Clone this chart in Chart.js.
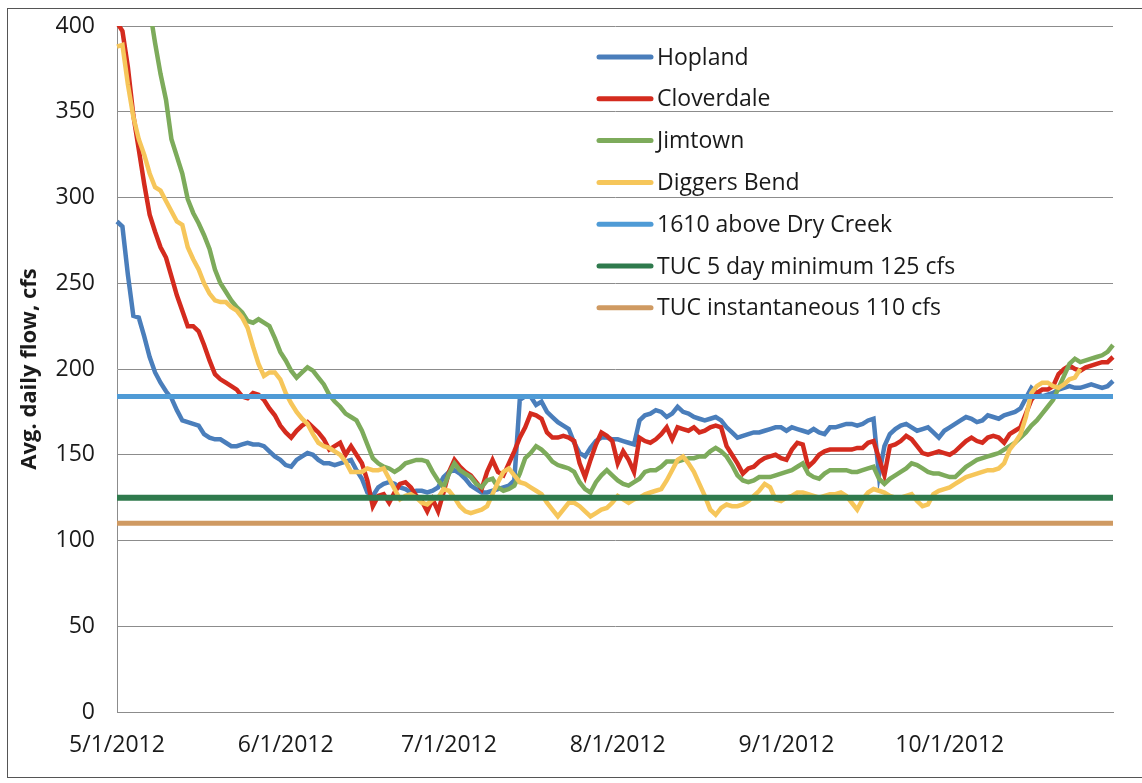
<!DOCTYPE html>
<html>
<head>
<meta charset="utf-8">
<script src="https://cdn.jsdelivr.net/npm/chart.js@4/dist/chart.umd.min.js"></script>
<style>
  html, body { margin: 0; padding: 0; background: #fff; }
  #wrap { position: relative; width: 1142px; height: 783px; }
  #frame { position: absolute; left: 7px; top: 8px; width: 1140px; height: 768px;
           border: 1px solid #555; border-right: none; pointer-events: none; }
</style>
</head>
<body>
<div id="wrap">
  <canvas id="flowChart"></canvas>
  <div id="frame"></div>
</div>
<script>
// daily values, 5/1/2012 .. 10/31/2012
const startDate = Date.UTC(2012, 4, 1);
const dayCount = 184;
const monthTicks = ['5/1/2012', '6/1/2012', '7/1/2012', '8/1/2012', '9/1/2012', '10/1/2012'];

const hopland = [
  286, 283, 255, 231, 230, 219, 207, 198, 192, 187,
  183, 176, 170, 169, 168, 167, 162, 160, 159, 159,
  157, 155, 155, 156, 157, 156, 156, 155, 152, 149,
  147, 144, 143, 147, 149, 151, 150, 147, 145, 145,
  144, 145, 146, 147, 141, 136, 128, 126, 131, 133,
  134, 133, 131, 130, 128, 129, 129, 128, 129, 131,
  137, 140, 141, 139, 136, 132, 130, 128, 128, 129,
  130, 131, 132, 135, 182, 184, 184, 179, 181, 175,
  172, 169, 167, 165, 157, 151, 149, 154, 158, 160,
  160, 159, 159, 158, 157, 156, 170, 173, 174, 176,
  175, 172, 174, 178, 175, 174, 172, 171, 170, 171,
  172, 170, 166, 163, 160, 161, 162, 163, 163, 164,
  165, 166, 166, 164, 166, 165, 164, 163, 165, 163,
  162, 166, 166, 167, 168, 168, 167, 168, 170, 171,
  138, 155, 162, 165, 167, 168, 166, 164, 165, 166,
  163, 160, 164, 166, 168, 170, 172, 171, 169, 170,
  173, 172, 171, 173, 174, 175, 177, 183, 189, 186,
  184, 185, 186, 188, 189, 190, 189, 189, 190, 191,
  190, 189, 190, 193
];

const cloverdale = [
  402, 397, 376, 348, 328, 308, 290, 280, 271, 265,
  254, 243, 234, 225, 225, 222, 214, 205, 197, 194,
  192, 190, 188, 184, 183, 186, 185, 182, 177, 173,
  167, 163, 160, 164, 167, 169, 166, 163, 159, 153,
  155, 157, 150, 155, 150, 145, 135, 120, 126, 127,
  122, 128, 133, 134, 131, 126, 123, 117, 124, 117,
  128, 140, 147, 143, 140, 138, 134, 130, 140, 147,
  140, 138, 145, 152, 160, 166, 174, 173, 171, 163,
  160, 160, 161, 160, 158, 145, 137, 147, 156, 163,
  161, 158, 145, 152, 147, 140, 160, 158, 157, 159,
  162, 166, 159, 166, 165, 164, 166, 163, 164, 166,
  167, 166, 155, 150, 145, 139, 142, 143, 146, 148,
  149, 150, 148, 147, 153, 157, 156, 143, 146, 150,
  152, 153, 153, 153, 153, 153, 154, 154, 157, 158,
  148, 138, 155, 156, 158, 161, 159, 155, 151, 150,
  151, 152, 151, 150, 152, 155, 158, 160, 158, 157,
  160, 161, 160, 157, 162, 164, 166, 174, 182, 186,
  188, 188, 190, 197, 200, 202, 200, 199, 201, 202,
  203, 204, 204, 207
];

const jimtown = [
  550, 525, 500, 475, 452, 430, 410, 390, 372, 357,
  334, 324, 314, 299, 291, 285, 278, 270, 258, 250,
  245, 240, 236, 233, 228, 227, 229, 227, 225, 218,
  210, 205, 199, 195, 198, 201, 199, 195, 191, 185,
  181, 178, 174, 172, 170, 164, 156, 148, 145, 143,
  142, 140, 142, 145, 146, 147, 147, 146, 140, 135,
  131, 139, 145, 141, 139, 137, 133, 131, 135, 136,
  131, 129, 130, 132, 139, 148, 151, 155, 153, 150,
  146, 144, 143, 142, 140, 134, 130, 128, 134, 138,
  141, 138, 135, 133, 132, 134, 136, 140, 141, 141,
  143, 146, 146, 146, 147, 148, 148, 149, 149, 152,
  154, 152, 149, 144, 138, 135, 134, 135, 137, 137,
  137, 138, 139, 140, 141, 143, 145, 139, 137, 136,
  139, 141, 141, 141, 141, 140, 140, 141, 142, 143,
  136, 133, 136, 138, 140, 142, 145, 144, 142, 140,
  139, 139, 138, 137, 137, 140, 143, 145, 147, 148,
  149, 150, 151, 153, 155, 157, 160, 163, 167, 170,
  174, 178, 182, 189, 196, 203, 206, 204, 205, 206,
  207, 208, 210, 214
];

const diggersBend = [
  388, 389, 366, 347, 334, 325, 314, 306, 304, 298,
  292, 286, 284, 271, 264, 258, 250, 244, 240, 239,
  239, 236, 234, 230, 224, 213, 203, 196, 198, 198,
  194, 186, 180, 175, 171, 168, 162, 157, 155, 154,
  152, 150, 146, 140, 140, 140, 142, 141, 141, 142,
  136, 130, 124, 126, 127, 125, 122, 121, 124, 125,
  130, 129, 125, 120, 117, 116, 117, 118, 120, 127,
  134, 140, 142, 138, 134, 133, 131, 129, 127, 122,
  118, 114, 118, 122, 122, 120, 117, 114, 116, 118,
  119, 122, 126, 124, 122, 124, 125, 127, 128, 129,
  130, 135, 141, 147, 149, 145, 140, 133, 126, 118,
  115, 119, 121, 120, 120, 121, 123, 126, 129, 133,
  131, 124, 123, 125, 126, 128, 128, 127, 126, 125,
  126, 127, 127, 128, 126, 122, 118, 124, 128, 130,
  129, 128, 126, 125, 125, 126, 127, 123, 120, 121,
  127, 129, 130, 131, 133, 135, 137, 138, 139, 140,
  141, 141, 142, 145, 153, 157, 162, 172, 186, 190,
  192, 192, 190, 189, 191, 194, 195, 200
];

const dryCreek1610 = 184;
const tucFiveDayMin = 125;
const tucInstantaneous = 110;

const seriesNames = ['Hopland', 'Cloverdale', 'Jimtown', 'Diggers Bend',
  '1610 above Dry Creek', 'TUC 5 day minimum 125 cfs', 'TUC instantaneous 110 cfs'];
const seriesColors = ['#4a7ebb', '#d42b1e', '#7dab5b', '#f6c65a', '#4f9bd6', '#2f7a4d', '#cf9a62'];
const seriesWidths = [4.5, 4.5, 4.5, 4.5, 5, 6, 5];

const labels = [];
for (let i = 0; i < dayCount; i++) {
  const d = new Date(startDate + i * 86400000);
  labels.push((d.getUTCMonth() + 1) + '/' + d.getUTCDate() + '/' + d.getUTCFullYear());
}
const flat = v => labels.map(() => v);

const seriesData = [hopland, cloverdale, jimtown, diggersBend,
  flat(dryCreek1610), flat(tucFiveDayMin), flat(tucInstantaneous)];

const datasets = seriesData.map((data, i) => ({
  label: seriesNames[i],
  data,
  borderColor: seriesColors[i],
  backgroundColor: seriesColors[i],
  borderWidth: seriesWidths[i],
  pointRadius: 0,
  tension: 0,
  fill: false,
  order: seriesData.length - i
}));

// legend drawn inside the plot, like the original
const insideLegend = {
  id: 'insideLegend',
  afterDraw(chart) {
    const ctx = chart.ctx;
    ctx.save();
    ctx.font = '23px "Open Sans"';
    ctx.textBaseline = 'middle';
    ctx.lineCap = 'round';
    chart.data.datasets.forEach((ds, i) => {
      const y = 57 + i * 41.8;
      ctx.strokeStyle = ds.borderColor;
      ctx.lineWidth = 5;
      ctx.beginPath();
      ctx.moveTo(599, y);
      ctx.lineTo(651, y);
      ctx.stroke();
      ctx.fillStyle = '#1a1a1a';
      ctx.fillText(ds.label, 657, y + 1);
    });
    ctx.restore();
  }
};

const gridColor = '#8c8c8c';

new Chart(document.getElementById('flowChart'), {
  type: 'line',
  data: { labels, datasets },
  plugins: [insideLegend],
  options: {
    responsive: true,
    maintainAspectRatio: false,
    animation: false,
    layout: { padding: { left: 0, top: 26, right: 29, bottom: 0 } },
    plugins: { legend: { display: false }, tooltip: { enabled: false } },
    scales: {
      x: {
        grid: { display: false, drawTicks: false },
        border: { display: true, color: gridColor, width: 1 },
        afterFit(scale) { scale.height = 71; },
        ticks: {
          autoSkip: false,
          maxRotation: 0,
          padding: 20,
          color: '#1a1a1a',
          font: { family: 'Open Sans', size: 23 },
          callback(value) {
            const l = this.getLabelForValue(value);
            return monthTicks.includes(l) ? l : '';
          }
        }
      },
      y: {
        min: 0,
        max: 400,
        afterFit(scale) {
          scale.width = 117;
          scale.paddingTop = 0;
          scale.paddingBottom = 0;
        },
        grid: { color: gridColor, lineWidth: 1, drawTicks: false },
        border: { display: true, color: gridColor, width: 1 },
        ticks: {
          stepSize: 50,
          padding: 22,
          color: '#1a1a1a',
          font: { family: 'Open Sans', size: 23 }
        },
        title: {
          display: true,
          text: 'Avg. daily flow, cfs',
          color: '#1a1a1a',
          padding: { top: 17, bottom: 0 },
          font: { family: 'Open Sans', size: 22, weight: 'bold' }
        }
      }
    }
  }
});
</script>
</body>
</html>
